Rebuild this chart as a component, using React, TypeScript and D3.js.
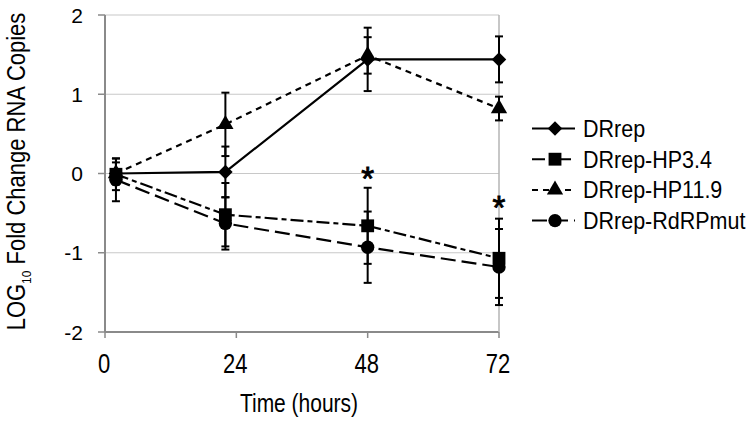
import React from "react";
import * as d3 from "d3";

const times = [2, 22, 48, 72];
const xTicks = [0, 24, 48, 72];
const yTicks = [-2, -1, 0, 1, 2];
const seriesNames = ["DRrep", "DRrep-HP3.4", "DRrep-HP11.9", "DRrep-RdRPmut"];
const drrep = [0, 0.02, 1.44, 1.44];
const drrepErr = [0.14, 0.32, 0.4, 0.29];
const hp34 = [-0.01, -0.52, -0.66, -1.07];
const hp34Err = [0.2, 0.4, 0.48, 0.5];
const hp119 = [0, 0.62, 1.49, 0.82];
const hp119Err = [0.05, 0.4, 0.23, 0.15];
const rdrp = [-0.08, -0.63, -0.93, -1.18];
const rdrpErr = [0.27, 0.33, 0.45, 0.48];
const starTimes = [48, 72];
const starValues = [0.03, -0.33];

const W = 750;
const H = 425;
const FONT = "'Liberation Sans', Arial, sans-serif";

const x = d3.scaleLinear().domain([0, 72]).range([105, 499]);
const y = d3.scaleLinear().domain([-2, 2]).range([332, 15]);

type Series = {
  name: string;
  values: number[];
  errs: number[];
  dash: string;
  symbol: d3.SymbolType;
  size: number;
  rotate: number;
};

const series: Series[] = [
  { name: seriesNames[0], values: drrep, errs: drrepErr, dash: "none", symbol: d3.symbolSquare, size: 105, rotate: 45 },
  { name: seriesNames[1], values: hp34, errs: hp34Err, dash: "13,4,5,4", symbol: d3.symbolSquare, size: 165, rotate: 0 },
  { name: seriesNames[2], values: hp119, errs: hp119Err, dash: "6,5", symbol: d3.symbolTriangle, size: 115, rotate: 0 },
  { name: seriesNames[3], values: rdrp, errs: rdrpErr, dash: "15,6", symbol: d3.symbolCircle, size: 140, rotate: 0 },
];

function Txt(props: {
  x: number;
  y: number;
  size: number;
  sx?: number;
  sy?: number;
  anchor?: string;
  rotate?: number;
  stroke?: number;
  children: React.ReactNode;
}) {
  const { sx = 1, sy = 1, anchor = "start", rotate = 0, stroke = 0 } = props;
  return (
    <text
      transform={`translate(${props.x},${props.y}) rotate(${rotate}) scale(${sx},${sy})`}
      fontSize={props.size}
      fontFamily={FONT}
      textAnchor={anchor}
      fill="#000"
      stroke={stroke ? "#000" : "none"}
      strokeWidth={stroke}
    >
      {props.children}
    </text>
  );
}

export default function App() {
  const line = d3
    .line<number>()
    .x((_, i) => x(times[i]))
    .y((v) => y(v));

  const capW = 4;

  return (
    <svg
      width={W}
      height={H}
      style={{ position: "absolute", left: 0, top: 0, background: "#fff" }}
    >
      <rect x={0} y={0} width={W} height={H} fill="#fff" />
      {/* grid */}
      {yTicks.map((t) => (
        <line
          key={"g" + t}
          x1={x(0)}
          x2={x(72)}
          y1={y(t)}
          y2={y(t)}
          stroke={t === -2 ? "#8a8a8a" : "#c8c8c8"}
          strokeWidth={t === -2 ? 2 : 1.2}
        />
      ))}
      <line x1={x(72)} x2={x(72)} y1={y(2)} y2={y(-2)} stroke="#b4b4b4" strokeWidth={1.5} />
      <line x1={x(0)} x2={x(0)} y1={y(2)} y2={y(-2)} stroke="#8a8a8a" strokeWidth={2} />
      {yTicks.map((t) => (
        <line key={"yt" + t} x1={x(0) - 7} x2={x(0)} y1={y(t)} y2={y(t)} stroke="#8a8a8a" strokeWidth={1.5} />
      ))}
      {xTicks.map((t) => (
        <line key={"xt" + t} x1={x(t)} x2={x(t)} y1={y(-2)} y2={y(-2) + 6} stroke="#8a8a8a" strokeWidth={1.5} />
      ))}
      {yTicks.map((t) => (
        <Txt key={"yl" + t} x={83} y={y(t) + 7.5} size={21} anchor="end">
          {t}
        </Txt>
      ))}
      {xTicks.map((t) => (
        <Txt key={"xl" + t} x={x(t) - 1} y={373} size={22} sy={1.27} anchor="middle">
          {t}
        </Txt>
      ))}
      <Txt x={299} y={411.5} size={21} sy={1.22} anchor="middle">
        Time (hours)
      </Txt>
      <text
        transform={`translate(25,171.5) rotate(-90) scale(1,1.14)`}
        fontSize={22}
        fontFamily={FONT}
        textAnchor="middle"
        fill="#000"
      >
        LOG
        <tspan fontSize={12} dy={5}>
          10
        </tspan>
        <tspan dy={-5}> Fold Change RNA Copies</tspan>
      </text>

      {/* lines */}
      {series.map((s) => (
        <path
          key={"l" + s.name}
          d={line(s.values) || ""}
          fill="none"
          stroke="#000"
          strokeWidth={2.2}
          strokeDasharray={s.dash}
        />
      ))}
      {/* error bars */}
      {series.map((s) =>
        s.values.map((v, i) => {
          const cx = x(times[i]);
          const top = y(v + s.errs[i]);
          const bot = y(v - s.errs[i]);
          return (
            <g key={"e" + s.name + i} stroke="#000" strokeWidth={2}>
              <line x1={cx} x2={cx} y1={top} y2={bot} />
              <line x1={cx - capW} x2={cx + capW} y1={top} y2={top} />
              <line x1={cx - capW} x2={cx + capW} y1={bot} y2={bot} />
            </g>
          );
        })
      )}
      {/* markers */}
      {series.map((s) =>
        s.values.map((v, i) => (
          <path
            key={"m" + s.name + i}
            d={d3.symbol(s.symbol, s.size)() || ""}
            transform={`translate(${x(times[i])},${y(v)}) rotate(${s.rotate})`}
            fill="#000"
          />
        ))
      )}
      {/* significance stars */}
      {starTimes.map((t, i) => (
        <Txt key={"s" + i} x={x(t)} y={y(starValues[i]) + 19} size={33} stroke={0.9} anchor="middle">
          *
        </Txt>
      ))}

      {/* legend */}
      {series.map((s, i) => {
        const cy = 128.5 + i * 30.7;
        return (
          <g key={"lg" + s.name}>
            <line
              x1={532}
              x2={575}
              y1={cy}
              y2={cy}
              stroke="#000"
              strokeWidth={2}
              strokeDasharray={s.dash}
            />
            <path
              d={d3.symbol(s.symbol, s.size)() || ""}
              transform={`translate(555,${cy}) rotate(${s.rotate})`}
              fill="#000"
            />
            <Txt x={583} y={cy + 8.4} size={21.5} sy={1.08}>
              {s.name}
            </Txt>
          </g>
        );
      })}
    </svg>
  );
}
